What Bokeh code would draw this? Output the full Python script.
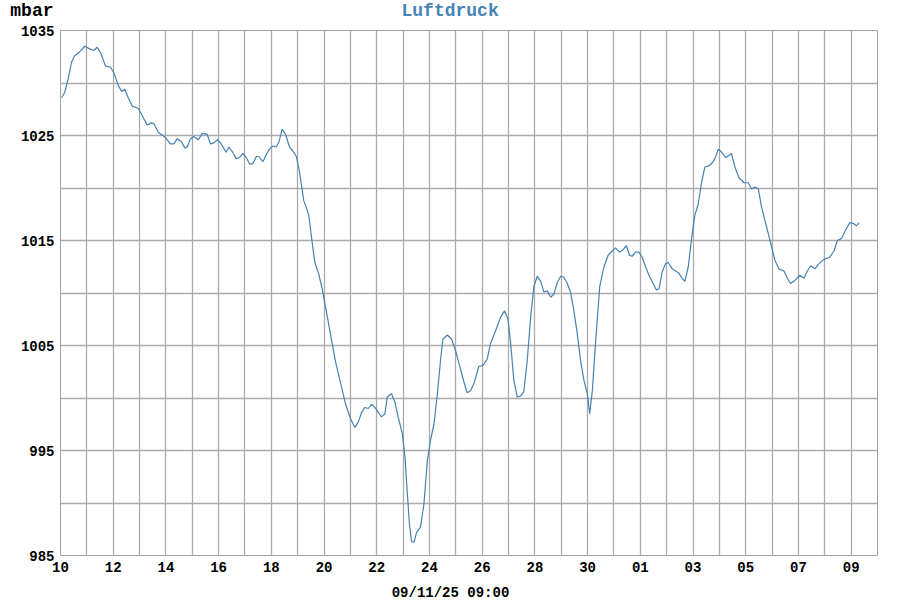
from bokeh.plotting import figure
from bokeh.models import FixedTicker, Range1d, Label
from bokeh.layouts import column
from bokeh.embed import file_html
from bokeh.resources import INLINE

# time in days since 10 Oct 2025 00:00, pressure in mbar
days = [0.04, 0.16, 0.29, 0.42, 0.54, 0.70, 0.92, 1.07, 1.26, 1.39,
        1.52, 1.71, 1.90, 2.02, 2.19, 2.32, 2.44, 2.57, 2.72, 2.95,
        3.10, 3.29, 3.45, 3.55, 3.71, 3.98, 4.17, 4.30, 4.43, 4.59,
        4.72, 4.81, 4.93, 5.06, 5.23, 5.38,
        5.57, 5.69, 5.82, 5.95, 6.07, 6.29, 6.39, 6.51, 6.67, 6.79,
        6.92, 7.05, 7.17, 7.30, 7.43, 7.53, 7.68, 7.81, 7.93, 8.06,
        8.19, 8.29, 8.41, 8.54, 8.69, 8.82, 8.95, 9.07, 9.23, 9.36,
        9.42, 9.55, 9.65, 9.80, 9.93, 10.06,
        10.44, 10.63, 10.82, 11.01, 11.17, 11.30, 11.42, 11.55, 11.68, 11.80,
        11.93, 12.06, 12.18, 12.31, 12.40, 12.56, 12.69, 12.81, 12.97, 13.07,
        13.16, 13.24, 13.32, 13.42, 13.51, 13.66, 13.79, 13.92, 14.04, 14.17,
        14.30, 14.42, 14.51, 14.68, 14.84, 14.99, 15.14, 15.31, 15.43, 15.56,
        15.69,
        15.87, 16.03, 16.19, 16.32, 16.51, 16.70, 16.85, 16.98, 17.08, 17.20,
        17.33, 17.46, 17.58, 17.71, 17.84, 17.96, 18.09, 18.22, 18.34, 18.47,
        18.60, 18.72, 18.85, 18.98, 19.10, 19.23, 19.35, 19.48, 19.61, 19.73,
        19.86, 19.99, 20.08, 20.18, 20.30, 20.46, 20.62, 20.78, 20.94,
        21.06, 21.21, 21.34, 21.47, 21.59, 21.69, 21.82, 21.95, 22.07, 22.20,
        22.33, 22.48, 22.61, 22.71, 22.83, 22.96, 23.06, 23.21, 23.34, 23.46,
        23.59, 23.69, 23.82, 23.95, 24.07, 24.20, 24.33, 24.45, 24.60, 24.73,
        24.83, 24.96, 25.09, 25.24, 25.36, 25.46, 25.59, 25.74, 25.93, 26.10,
        26.22, 26.35,
        26.48, 26.60, 26.76, 26.95, 27.11, 27.26, 27.45, 27.58, 27.70, 27.87,
        28.05, 28.21, 28.34, 28.46, 28.63, 28.78, 28.97, 29.18, 29.35, 29.48,
        29.64, 29.79, 29.95, 30.10, 30.20, 30.31]

mbar = [1028.6, 1029.1, 1030.4, 1032.0, 1032.6, 1032.9, 1033.5, 1033.3, 1033.1, 1033.4,
        1032.9, 1031.6, 1031.5, 1031.0, 1029.8, 1029.2, 1029.4, 1028.6, 1027.8, 1027.6,
        1026.9, 1026.0, 1026.2, 1026.1, 1025.3, 1024.8, 1024.2, 1024.2, 1024.7, 1024.4,
        1023.8, 1023.9, 1024.7, 1024.9, 1024.6, 1025.2,
        1025.1, 1024.2, 1024.3, 1024.6, 1024.3, 1023.4, 1023.9, 1023.5, 1022.8, 1022.9,
        1023.3, 1022.9, 1022.3, 1022.3, 1023.0, 1023.0, 1022.5, 1023.2, 1023.7, 1024.0,
        1023.9, 1024.4, 1025.6, 1025.1, 1023.9, 1023.5, 1023.0, 1021.5, 1018.8, 1017.9,
        1017.4, 1014.8, 1012.9, 1011.8, 1010.4, 1008.6,
        1003.4, 1001.4, 999.4, 998.0, 997.2, 997.7, 998.6, 999.1, 999.0, 999.4,
        999.1, 998.6, 998.2, 998.5, 1000.1, 1000.4, 999.6, 998.2, 996.6, 994.4,
        990.9, 988.0, 986.3, 986.3, 987.2, 987.7, 989.9, 994.0, 996.0, 997.5,
        1000.4, 1003.6, 1005.6, 1006.0, 1005.6, 1004.5, 1003.1, 1001.5, 1000.5, 1000.7,
        1001.4,
        1003.0, 1003.1, 1003.7, 1005.2, 1006.4, 1007.7, 1008.3, 1007.5, 1005.2, 1001.7,
        1000.1, 1000.2, 1000.6, 1003.6, 1007.7, 1010.6, 1011.6, 1011.1, 1010.1, 1010.2,
        1009.6, 1009.9, 1011.0, 1011.6, 1011.5, 1010.9, 1010.1, 1008.3, 1006.1, 1003.6,
        1001.7, 1000.4, 998.5, 1000.7, 1005.2, 1010.6, 1012.5, 1013.6, 1014.0,
        1014.3, 1013.9, 1014.1, 1014.5, 1013.6, 1013.5, 1013.9, 1013.9, 1013.4, 1012.5,
        1011.7, 1010.9, 1010.3, 1010.4, 1012.0, 1012.8, 1012.9, 1012.3, 1012.1, 1011.9,
        1011.4, 1011.1, 1012.5, 1015.3, 1017.4, 1018.5, 1020.6, 1022.0, 1022.1, 1022.4,
        1022.8, 1023.7, 1023.4, 1022.9, 1023.1, 1023.3, 1022.0, 1021.0, 1020.5, 1020.5,
        1019.9, 1020.1,
        1019.9, 1018.2, 1016.6, 1014.7, 1013.1, 1012.3, 1012.1, 1011.4, 1010.9, 1011.2,
        1011.7, 1011.4, 1012.1, 1012.6, 1012.3, 1012.8, 1013.2, 1013.4, 1014.0, 1015.0,
        1015.2, 1016.0, 1016.7, 1016.6, 1016.4, 1016.7]

x_tick_pos = list(range(0, 31, 2))
x_tick_labels = ["10", "12", "14", "16", "18", "20", "22", "24", "26", "28",
                 "30", "01", "03", "05", "07", "09"]
x_grid_pos = list(range(1, 31))
y_tick_pos = [985, 995, 1005, 1015, 1025, 1035]
y_grid_pos = [990, 995, 1000, 1005, 1010, 1015, 1020, 1025, 1030]

title_text = "Luftdruck"
unit_text = "mbar"
time_text = "09/11/25 09:00"

FONT = "Liberation Mono"
BLUE = "#4682b4"
W = 890
LEFT = 60
FRAME_W = 817
RIGHT = W - LEFT - FRAME_W


def strip(height):
    """A text strip whose frame is aligned with the chart frame by the column
    layout; its x range is in page pixels of that frame (60 .. 877)."""
    s = figure(width=W, height=height, output_backend="svg", toolbar_location=None,
               x_range=Range1d(LEFT, LEFT + FRAME_W), y_range=Range1d(0, height),
               min_border_left=LEFT, min_border_right=RIGHT,
               min_border_top=0, min_border_bottom=0)
    s.xaxis.visible = False
    s.grid.visible = False
    s.outline_line_color = None
    s.background_fill_color = None
    return s


# ---- header strip: unit (as a horizontal axis label) and the title ----
head = strip(20)
hy = head.yaxis[0]
hy.ticker = FixedTicker(ticks=[])
hy.axis_line_color = None
hy.major_tick_line_color = None
hy.minor_tick_line_color = None
hy.major_tick_out = 0
hy.major_tick_in = 0
hy.minor_tick_out = 0
hy.minor_tick_in = 0
hy.major_label_standoff = 0
hy.axis_label = unit_text
hy.axis_label_orientation = "horizontal"
hy.axis_label_standoff = 7
hy.axis_label_text_font = FONT
hy.axis_label_text_font_style = "bold"
hy.axis_label_text_font_size = "18px"
hy.axis_label_text_color = "black"
head.add_layout(Label(x=401, y=10, text=title_text, text_font=FONT,
                      text_font_style="bold", text_font_size="18px",
                      text_color=BLUE, text_align="left",
                      text_baseline="middle"))

# ---- footer strip: time stamp ----
foot = strip(15)
foot.yaxis.visible = False
foot.add_layout(Label(x=450, y=8, text=time_text, text_font=FONT,
                      text_font_style="bold", text_font_size="14px",
                      text_color="black", text_align="center",
                      text_baseline="middle"))

# ---- main chart ----
p = figure(width=W, height=565, output_backend="svg", toolbar_location=None,
           x_range=Range1d(0, 31), y_range=Range1d(985, 1035),
           min_border_left=LEFT, min_border_right=RIGHT,
           min_border_top=10, min_border_bottom=30)
p.background_fill_color = "white"
p.border_fill_color = "white"
p.outline_line_color = "#a0a0a0"
p.outline_line_width = 1

p.line(days, mbar, line_color=BLUE, line_width=1.2)

p.xaxis.ticker = FixedTicker(ticks=x_tick_pos)
p.xaxis.major_label_overrides = {pos: lab for pos, lab in zip(x_tick_pos, x_tick_labels)}
p.yaxis.ticker = FixedTicker(ticks=y_tick_pos)
p.xgrid.ticker = FixedTicker(ticks=x_grid_pos)
p.ygrid.ticker = FixedTicker(ticks=y_grid_pos)
for g in (p.xgrid, p.ygrid):
    g.grid_line_color = "#ababab"
    g.grid_line_width = 1.3
    g.grid_line_alpha = 1.0

for ax in (p.xaxis, p.yaxis):
    ax.axis_line_color = None
    ax.major_tick_line_color = None
    ax.minor_tick_line_color = None
    ax.major_tick_out = 0
    ax.major_tick_in = 0
    ax.minor_tick_out = 0
    ax.minor_tick_in = 0
    ax.major_label_text_font = FONT
    ax.major_label_text_font_style = "bold"
    ax.major_label_text_font_size = "14px"
    ax.major_label_text_color = "black"
p.xaxis.major_label_standoff = 6
p.yaxis.major_label_standoff = 6

layout = column(head, p, foot, spacing=0)
open("out.html", "w").write(file_html(layout, INLINE))
